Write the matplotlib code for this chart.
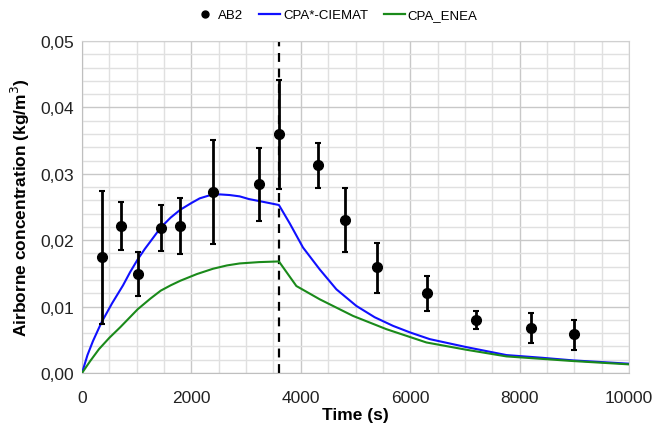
import matplotlib
matplotlib.use("Agg")
import matplotlib.pyplot as plt
from matplotlib.ticker import MultipleLocator, FuncFormatter
from matplotlib.lines import Line2D

plt.rcParams['font.family'] = ['Liberation Sans', 'DejaVu Sans']

# Experimental AB2 data
ab2_t = [360, 720, 1020, 1440, 1800, 2400, 3240, 3600, 4320, 4800, 5400, 6300, 7200, 8200, 9000]
ab2_c = [0.0174, 0.0221, 0.0149, 0.0218, 0.0222, 0.0273, 0.0284, 0.0360, 0.0313, 0.0230, 0.0159, 0.0121, 0.0080, 0.0068, 0.0058]
ab2_hi = [0.0274, 0.0258, 0.0182, 0.0253, 0.0264, 0.0351, 0.0339, 0.0441, 0.0347, 0.0278, 0.0196, 0.0146, 0.0093, 0.0091, 0.0080]
ab2_lo = [0.0074, 0.0185, 0.0116, 0.0183, 0.0179, 0.0194, 0.0229, 0.0277, 0.0279, 0.0182, 0.0120, 0.0094, 0.0066, 0.0045, 0.0035]

# CPA*-CIEMAT
ciemat_t = [0, 100, 200, 355, 550, 750, 880, 1018, 1150, 1250, 1439, 1620, 1799, 2000, 2151, 2350, 2517, 2700,
            2883, 3050, 3236, 3420, 3600, 3800, 4040, 4346, 4651, 5016, 5350, 5686, 6000, 6357,
            7027, 7759, 8400, 8976, 10000]
ciemat_c = [0, 0.0027, 0.0048, 0.0076, 0.0105, 0.0132, 0.0152, 0.0171, 0.0187, 0.0198, 0.0219, 0.0234, 0.0246, 0.0256,
            0.0263, 0.0268, 0.0269, 0.0268, 0.0266, 0.0262, 0.0259, 0.0256, 0.0253, 0.0225, 0.0189,
            0.0156, 0.0126, 0.0101, 0.0084, 0.0071, 0.0061, 0.0051, 0.0039, 0.0027, 0.0023, 0.0019, 0.0014]

# CPA_ENEA
enea_t = [0, 150, 311, 500, 700, 1018, 1250, 1439, 1620, 1799, 2100, 2395, 2650, 2883, 3236, 3600,
          3919, 4346, 4954, 5565, 6296, 7027, 7759, 8976, 10000]
enea_c = [0, 0.0018, 0.0036, 0.0053, 0.0069, 0.0096, 0.0112, 0.0124, 0.0132, 0.0139, 0.0149, 0.0157,
          0.0162, 0.0165, 0.0167, 0.0168, 0.0131, 0.0111, 0.0086, 0.0066, 0.0046, 0.0035, 0.0025,
          0.0018, 0.0013]

t_switch = 3600

fig = plt.figure(figsize=(6.7, 4.31), dpi=100)
ax = fig.add_axes([82/670, 1-374/431, (629-82)/670, (374-42)/431])

ax.set_xlim(0, 10000)
ax.set_ylim(0, 0.05)
ax.xaxis.set_major_locator(MultipleLocator(2000))
ax.xaxis.set_minor_locator(MultipleLocator(500))
ax.yaxis.set_major_locator(MultipleLocator(0.01))
ax.yaxis.set_minor_locator(MultipleLocator(0.002))
ax.yaxis.set_major_formatter(FuncFormatter(lambda v, p: f"{v:.2f}".replace('.', ',')))
ax.grid(which='minor', color='#e0e0e0', lw=1.0)
ax.grid(which='major', color='#c8c8c8', lw=1.0)
ax.set_axisbelow(True)
ax.tick_params(which='both', length=0, labelsize=12.5, colors='#222222')
ax.tick_params(axis='y', pad=6)
ax.tick_params(axis='x', pad=12)
for s in ax.spines.values():
    s.set_color('#d0d0d0')
ax.spines['bottom'].set_color('#bfbfbf')
ax.spines['left'].set_color('#bfbfbf')

ax.plot(ciemat_t, ciemat_c, color='#1010ff', lw=1.5, zorder=3)
ax.plot(enea_t, enea_c, color='#1a8a1a', lw=1.5, zorder=3)
ax.axvline(t_switch, color='black', lw=1.6, ls=(0, (4, 3)), zorder=2)

yerr = [[c - lo for c, lo in zip(ab2_c, ab2_lo)], [hi - c for c, hi in zip(ab2_c, ab2_hi)]]
ax.errorbar(ab2_t, ab2_c, yerr=yerr, fmt='o', color='black', ms=7, elinewidth=2,
            capsize=2.5, capthick=1.5, zorder=4)

ax.set_xlabel('Time (s)', fontsize=12.5, fontweight='bold', labelpad=2)
ax.set_ylabel('Airborne concentration (kg/m$^3$)', fontsize=12.5, fontweight='bold', labelpad=6)

handles = [Line2D([], [], marker='o', color='black', ls='none', ms=5),
           Line2D([], [], color='#1010ff', lw=1.6),
           Line2D([], [], color='#1a8a1a', lw=1.6)]
fig.legend(handles, ['AB2', 'CPA*-CIEMAT', 'CPA_ENEA'], loc='center', bbox_to_anchor=(336/670, 1-16/431),
           ncol=3, frameon=False, fontsize=9.5, handlelength=1.6, handletextpad=0.2, columnspacing=1.2)

fig.savefig('out.png', dpi=100)
